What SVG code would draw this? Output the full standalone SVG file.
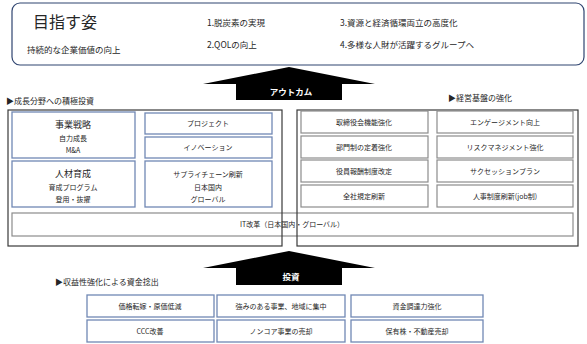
<svg xmlns="http://www.w3.org/2000/svg" width="587" height="344" viewBox="0 0 587 344">
<style>
text{font-family:"Noto Sans CJK JP","Liberation Sans",sans-serif;fill:#262626}
.t{font-size:7px;text-anchor:middle}
.h{font-size:9px;text-anchor:middle}
.lb{font-size:8px}
.bb{fill:#fff;stroke:#7088b4;stroke-width:1.3}
.gb{fill:#fff;stroke:#8c8c8c;stroke-width:1.2}
.ob{fill:none;stroke:#3a3a3a;stroke-width:1.2}
.arw{fill:#000}
.at{font-size:8.5px;font-weight:bold;fill:#fff;text-anchor:middle}
</style>
<g id="goal">
<rect x="12" y="3" width="572" height="62" rx="8" fill="#fff" stroke="#2f4470" stroke-width="1.2"/>
<text x="33" y="28" font-size="16">目指す姿</text>
<text x="27" y="53" font-size="8.5">持続的な企業価値の向上</text>
<text x="207" y="26" font-size="8.5">1.脱炭素の実現</text>
<text x="207" y="48" font-size="8.5">2.QOLの向上</text>
<text x="340" y="26" font-size="8.5">3.資源と経済循環両立の高度化</text>
<text x="340" y="48" font-size="8.5">4.多様な人財が活躍するグループへ</text>
</g>
<g id="connectors">
<polygon class="arw" points="289,67 375,84 342,84 342,100 236,100 236,84 203,84"/>
<text class="at" x="291" y="95">アウトカム</text>
<polygon class="arw" points="289,251 375,268 342,268 342,285 236,285 236,268 203,268"/>
<text class="at" x="291" y="280">投資</text>
</g>
<text class="lb" x="6" y="104">▶成長分野への積極投資</text>
<text class="lb" x="448" y="101">▶経営基盤の強化</text>
<text class="lb" x="55" y="285">▶収益性強化による資金捻出</text>
<g id="it">
<rect class="gb" x="12" y="213" width="561" height="23"/>
<text class="t" x="292" y="227">IT改革（日本国内・グローバル）</text>
</g>
<g id="growth">
<rect class="ob" x="8" y="110" width="274" height="136"/>
</g>
<g id="base">
<rect class="ob" x="297" y="110" width="281" height="136"/>
</g>
<g id="strategy">
<rect class="bb" x="12" y="112" width="123" height="46"/>
<text class="h" x="73" y="128">事業戦略</text>
<text class="t" x="73" y="141">自力成長</text>
<text class="t" x="73" y="153">M&amp;A</text>
</g>
<g id="hr">
<rect class="bb" x="12" y="161" width="123" height="46"/>
<text class="h" x="73" y="177">人材育成</text>
<text class="t" x="73" y="190">育成プログラム</text>
<text class="t" x="73" y="202">登用・抜擢</text>
</g>
<g id="project">
<rect class="bb" x="145" y="113" width="127" height="21"/>
<text class="t" x="208" y="126">プロジェクト</text>
</g>
<g id="innovation">
<rect class="bb" x="145" y="137" width="127" height="21"/>
<text class="t" x="208" y="150">イノベーション</text>
</g>
<g id="supply">
<rect class="bb" x="145" y="161" width="127" height="46"/>
<text class="t" x="208" y="177">サプライチェーン刷新</text>
<text class="t" x="208" y="190">日本国内</text>
<text class="t" x="208" y="202">グローバル</text>
</g>
<g id="board"><rect class="gb" x="301" y="111" width="127" height="22"/><text class="t" x="364" y="124.5">取締役会機能強化</text></g>
<g id="division"><rect class="gb" x="301" y="136" width="127" height="22"/><text class="t" x="364" y="149.5">部門制の定着強化</text></g>
<g id="comp"><rect class="gb" x="301" y="160" width="127" height="22"/><text class="t" x="364" y="173.5">役員報酬制度改定</text></g>
<g id="rules"><rect class="gb" x="301" y="185" width="127" height="22"/><text class="t" x="364" y="198.5">全社規定刷新</text></g>
<g id="engage"><rect class="gb" x="437" y="111" width="136" height="22"/><text class="t" x="505" y="124.5">エンゲージメント向上</text></g>
<g id="risk"><rect class="gb" x="437" y="136" width="136" height="22"/><text class="t" x="505" y="149.5">リスクマネジメント強化</text></g>
<g id="succession"><rect class="gb" x="437" y="160" width="136" height="22"/><text class="t" x="505" y="173.5">サクセッションプラン</text></g>
<g id="hrsys"><rect class="gb" x="437" y="185" width="136" height="22"/><text class="t" x="505" y="198.5">人事制度刷新(job制)</text></g>
<g id="price"><rect class="bb" x="87" y="295" width="127" height="22"/><text class="t" x="150" y="308.5">価格転嫁・原価低減</text></g>
<g id="focus"><rect class="bb" x="217" y="295" width="128" height="22"/><text class="t" x="281" y="308.5">強みのある事業、地域に集中</text></g>
<g id="funding"><rect class="bb" x="351" y="295" width="132" height="22"/><text class="t" x="417" y="308.5">資金調達力強化</text></g>
<g id="ccc"><rect class="bb" x="87" y="320" width="127" height="22"/><text class="t" x="150" y="333.5">CCC改善</text></g>
<g id="noncore"><rect class="bb" x="217" y="320" width="128" height="22"/><text class="t" x="281" y="333.5">ノンコア事業の売却</text></g>
<g id="assets"><rect class="bb" x="351" y="320" width="132" height="22"/><text class="t" x="417" y="333.5">保有株・不動産売却</text></g>
</svg>
